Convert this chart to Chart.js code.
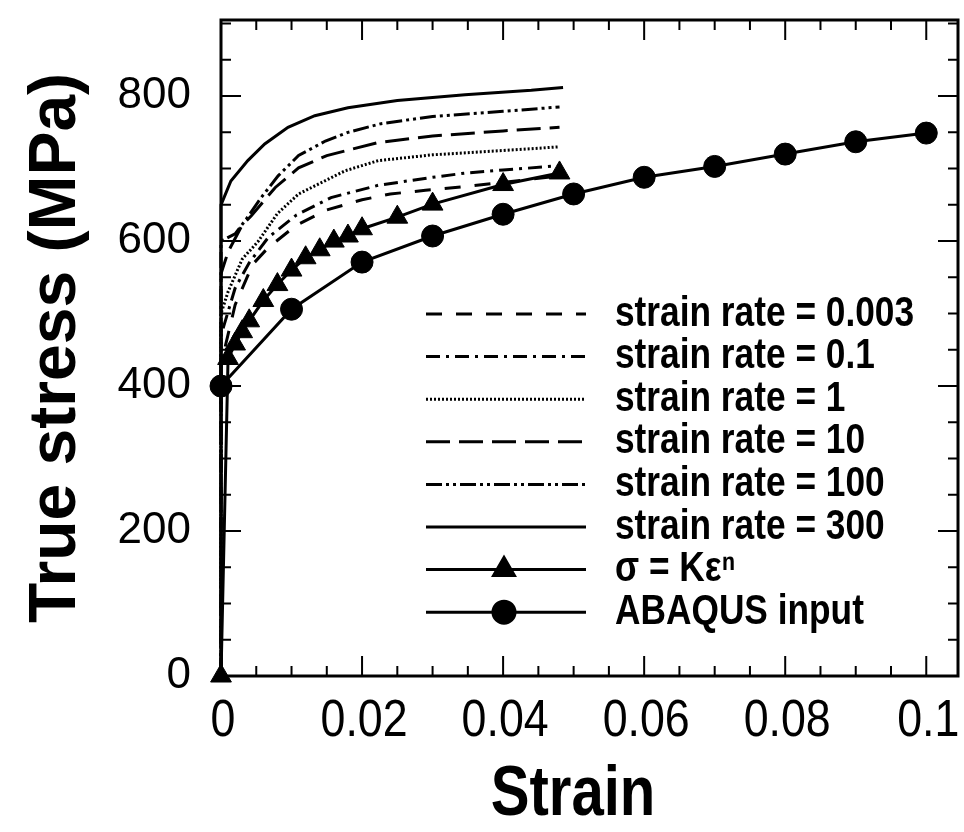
<!DOCTYPE html>
<html lang="en">
<head>
<meta charset="UTF-8">
<title>True stress vs strain</title>
<style>
  body { margin: 0; background: #fff; }
  #wrap { width: 964px; height: 832px; }
</style>
<script src="https://cdn.jsdelivr.net/npm/chart.js"></script>
</head>
<body>
<div id="wrap"><canvas id="stressChart" width="964" height="832"></canvas></div>
<script>
// axis ticks
const strainTicks = [0, 0.02, 0.04, 0.06, 0.08, 0.1];
const stressTicks = [0, 200, 400, 600, 800];
const strainMinorStep = 0.005;
const stressMinorStep = 50;

// strain rate curves
const rate0003Strain = [0, 0, 0.002, 0.0045, 0.0067, 0.0107, 0.015, 0.02, 0.024, 0.029, 0.0344, 0.04, 0.048];
const rate0003Stress = [0, 430, 512, 568, 591, 622, 643, 657, 665, 670, 675, 681, 690];

const rate01Strain = [0, 0, 0.002, 0.004, 0.0067, 0.0107, 0.0156, 0.0223, 0.03, 0.0348, 0.04, 0.048];
const rate01Stress = [0, 470, 535, 570, 605, 636, 660, 677, 688, 694, 698, 704];

const rate1Strain = [0, 0, 0.001, 0.003, 0.0053, 0.008, 0.011, 0.0176, 0.0223, 0.03, 0.04, 0.048];
const rate1Stress = [0, 500, 530, 575, 600, 638, 665, 697, 711, 719, 725, 730];

const rate10Strain = [0, 0, 0.001, 0.003, 0.0043, 0.0077, 0.011, 0.015, 0.0223, 0.03, 0.04, 0.048];
const rate10Stress = [0, 555, 585, 622, 635, 674, 701, 718, 736, 745, 752, 757];

const rate100Strain = [0, 0, 0.002, 0.0034, 0.0057, 0.0081, 0.011, 0.0148, 0.018, 0.0227, 0.03, 0.04, 0.048];
const rate100Stress = [0, 600, 610, 628, 660, 690, 718, 738, 750, 762, 772, 779, 785];

const rate300Strain = [0, 0, 0.0014, 0.0038, 0.0062, 0.0095, 0.0133, 0.018, 0.025, 0.0346, 0.044, 0.0485];
const rate300Stress = [0, 650, 683, 711, 734, 757, 773, 784, 794, 802, 808, 812];

// power law fit (triangles)
const powerStrain = [0, 0.001, 0.002, 0.003, 0.004, 0.006, 0.008, 0.01, 0.012, 0.014, 0.016, 0.018, 0.02, 0.025, 0.03, 0.04, 0.048];
const powerStress = [0, 438, 458, 475, 490, 518, 540, 560, 577, 588, 600, 607, 617, 633, 651, 678, 694];

// ABAQUS input (circles)
const abaqusStrain = [0, 0.01, 0.02, 0.03, 0.04, 0.05, 0.06, 0.07, 0.08, 0.09, 0.1];
const abaqusStress = [400, 506, 571, 607, 637, 665, 688, 703, 720, 737, 749];

const seriesLabels = [
    'strain rate = 0.003',
    'strain rate = 0.1',
    'strain rate = 1',
    'strain rate = 10',
    'strain rate = 100',
    'strain rate = 300',
    'σ = Kεⁿ',
    'ABAQUS input'
];

const SANS = "'Liberation Sans', Arial, sans-serif";

function pairs(xs, ys) {
    return xs.map((v, i) => ({ x: v, y: ys[i] }));
}

function curve(label, xs, ys, dash) {
    return {
        label: label,
        data: pairs(xs, ys),
        borderColor: '#000',
        backgroundColor: '#000',
        borderWidth: 3,
        borderDash: dash,
        pointRadius: 0,
        tension: 0,
        clip: false
    };
}

function markerCurve(label, xs, ys, style, radius) {
    return {
        label: label,
        data: pairs(xs, ys),
        borderColor: '#000',
        backgroundColor: '#000',
        borderWidth: 3,
        pointStyle: style,
        pointRadius: radius,
        pointBorderWidth: 1,
        tension: 0,
        clip: false
    };
}

const datasets = [
    curve(seriesLabels[0], rate0003Strain, rate0003Stress, [16, 14]),
    curve(seriesLabels[1], rate01Strain, rate01Stress, [14, 6, 3, 6]),
    curve(seriesLabels[2], rate1Strain, rate1Stress, [2, 2]),
    curve(seriesLabels[3], rate10Strain, rate10Stress, [24, 9]),
    curve(seriesLabels[4], rate100Strain, rate100Stress, [16, 4, 3, 4, 3, 4]),
    curve(seriesLabels[5], rate300Strain, rate300Stress, []),
    markerCurve(seriesLabels[6], powerStrain, powerStress, 'triangle', 12),
    markerCurve(seriesLabels[7], abaqusStrain, abaqusStress, 'circle', 11)
];

// draw text squeezed horizontally (the original uses a narrow face)
function narrowText(ctx, text, x, y, squeeze) {
    const w = ctx.measureText(text).width;
    ctx.fillText(text, x, y, w * squeeze);
}

// box with inward ticks on all four sides
const frameTicks = {
    id: 'frameTicks',
    afterDatasetsDraw(chart) {
        const { ctx, chartArea: a, scales: { x, y } } = chart;
        ctx.save();
        ctx.strokeStyle = '#000';
        ctx.lineWidth = 3;
        ctx.strokeRect(a.left, a.top, a.right - a.left, a.bottom - a.top);
        ctx.lineWidth = 2;
        ctx.beginPath();
        const nx = Math.floor(x.max / strainMinorStep + 1e-6);
        for (let i = 1; i <= nx; i++) {
            const px = x.getPixelForValue(i * strainMinorStep);
            const len = i % 4 === 0 ? 20 : 10;
            ctx.moveTo(px, a.bottom); ctx.lineTo(px, a.bottom - len);
            ctx.moveTo(px, a.top); ctx.lineTo(px, a.top + len);
        }
        const ny = Math.floor(y.max / stressMinorStep + 1e-6);
        for (let i = 1; i <= ny; i++) {
            const py = y.getPixelForValue(i * stressMinorStep);
            const len = i % 4 === 0 ? 20 : 10;
            ctx.moveTo(a.left, py); ctx.lineTo(a.left + len, py);
            ctx.moveTo(a.right, py); ctx.lineTo(a.right - len, py);
        }
        ctx.stroke();

        // x tick labels and x title, in a narrow style
        ctx.fillStyle = '#000';
        ctx.textAlign = 'center';
        ctx.textBaseline = 'middle';
        ctx.font = '52px ' + SANS;
        x.ticks.forEach(t => {
            narrowText(ctx, String(+t.value.toFixed(3)), x.getPixelForValue(t.value) + 2, a.bottom + 46, 0.86);
        });
        ctx.font = 'bold 70px ' + SANS;
        narrowText(ctx, 'Strain', 573, 796, 0.83);
        ctx.restore();
    }
};

// legend inside the plot, long line samples on the left
const boxLegend = {
    id: 'boxLegend',
    afterDraw(chart) {
        const ctx = chart.ctx;
        const x0 = 426, x1 = 586, textX = 615;
        const rowTop = 314, rowGap = 42.6;
        ctx.save();
        chart.data.datasets.forEach((ds, i) => {
            const yy = rowTop + i * rowGap;
            ctx.strokeStyle = '#000';
            ctx.lineWidth = 3;
            ctx.setLineDash(ds.borderDash || []);
            ctx.beginPath();
            ctx.moveTo(x0, yy);
            ctx.lineTo(x1, yy);
            ctx.stroke();
            ctx.setLineDash([]);
            if (ds.pointRadius > 0) {
                Chart.helpers.drawPoint(ctx, {
                    pointStyle: ds.pointStyle,
                    radius: ds.pointRadius,
                    borderWidth: 1,
                    rotation: 0
                }, (x0 + x1) / 2 - 2, yy);
            }
            ctx.fillStyle = '#000';
            ctx.font = 'bold 42px ' + SANS;
            ctx.textBaseline = 'middle';
            ctx.textAlign = 'left';
            narrowText(ctx, ds.label, textX, yy, 0.84);
        });
        ctx.restore();
    }
};

function noPad(scale) {
    scale.paddingTop = 0;
    scale.paddingBottom = 0;
    scale.paddingLeft = 0;
    scale.paddingRight = 0;
}

new Chart(document.getElementById('stressChart'), {
    type: 'line',
    data: { datasets: datasets },
    options: {
        responsive: false,
        animation: false,
        devicePixelRatio: 1,
        layout: { autoPadding: false, padding: { top: 20, right: 6, left: 0, bottom: 0 } },
        plugins: {
            legend: { display: false },
            tooltip: { enabled: false }
        },
        scales: {
            x: {
                type: 'linear',
                min: 0,
                max: 0.1045,
                afterFit(scale) { scale.height = 156; noPad(scale); },
                afterBuildTicks(scale) { scale.ticks = strainTicks.map(v => ({ value: v })); },
                grid: { display: false, drawTicks: false },
                border: { display: false },
                ticks: { display: false }
            },
            y: {
                type: 'linear',
                min: 0,
                max: 905,
                afterFit(scale) { scale.width = 221; noPad(scale); },
                afterBuildTicks(scale) { scale.ticks = stressTicks.map(v => ({ value: v })); },
                grid: { display: false, drawTicks: false },
                border: { display: false },
                ticks: {
                    padding: 30,
                    color: '#000',
                    font: { family: SANS, size: 44 }
                },
                title: {
                    display: true,
                    text: 'True stress (MPa)',
                    color: '#000',
                    padding: { top: 24, bottom: 0 },
                    font: { family: SANS, size: 66, weight: 'bold', lineHeight: 1 }
                }
            }
        }
    },
    plugins: [frameTicks, boxLegend]
});
</script>
</body>
</html>
